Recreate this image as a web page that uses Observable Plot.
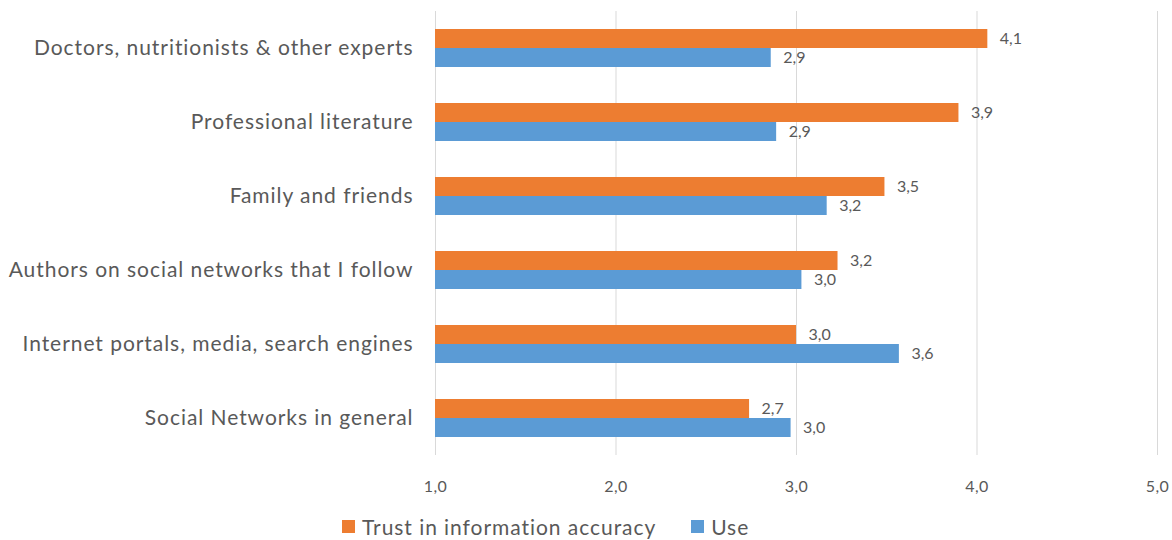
<!DOCTYPE html>
<html>
<head>
<meta charset="utf-8">
<script src="https://cdn.jsdelivr.net/npm/d3@7"></script>
<script src="https://cdn.jsdelivr.net/npm/@observablehq/plot@0.6"></script>
<style>
  html, body { margin: 0; padding: 0; background: #fff; }
  #chart svg { display: block; }
  #chart svg g[aria-label^="fy-axis"] text { font-size: 21px; letter-spacing: 0.95px; }
  #chart svg g[aria-label^="x-axis"] text { font-size: 16px; letter-spacing: 0.4px; }
  .legend { display: flex; align-items: center; height: 35px; margin-top: 4px;
    padding-left: 342px; font-family: Lato, sans-serif; font-size: 21px; letter-spacing: 0.95px; color: #595959; }
  .legend .item { display: flex; align-items: center; margin-right: 35px; }
  .legend .sw { width: 13px; height: 13px; margin-right: 7px; display: inline-block; }
</style>
</head>
<body>
<div id="chart"></div>
<script>
const categories = [
  "Doctors, nutritionists & other experts",
  "Professional literature",
  "Family and friends",
  "Authors on social networks that I follow",
  "Internet portals, media, search engines",
  "Social Networks in general"
];
const seriesNames = ["Trust in information accuracy", "Use"];
const trust = [4.06, 3.90, 3.49, 3.23, 3.00, 2.74];
const use = [2.86, 2.89, 3.17, 3.03, 3.57, 2.97];
const xTicks = [1, 2, 3, 4, 5];
const colors = ["#ED7D31", "#5B9BD5"];

const data = categories.flatMap((c, i) => [
  {category: c, series: seriesNames[0], value: trust[i]},
  {category: c, series: seriesNames[1], value: use[i]}
]);
const fmt = v => d3.format(".1f")(v).replace(".", ",");

const chart = Plot.plot({
  width: 1172,
  height: 505,
  marginLeft: 435,
  marginRight: 15,
  marginTop: 11,
  marginBottom: 50,
  style: {fontFamily: "Lato, sans-serif", color: "#595959", background: "#fff"},
  facet: {data, y: "category"},
  fy: {domain: categories, padding: 0, label: null, tickSize: 0, tickPadding: 22},
  y: {domain: seriesNames, paddingInner: 0, paddingOuter: 0.917, axis: null},
  x: {domain: [1, 5], ticks: xTicks, tickFormat: fmt, tickSize: 0, tickPadding: 25, label: null},
  color: {domain: seriesNames, range: colors},
  marks: [
    Plot.ruleX(xTicks, {stroke: "#d9d9d9", strokeWidth: 1}),
    Plot.barX(data, {x1: 1, x2: "value", y: "series", fill: "series"}),
    Plot.text(data, {x: "value", y: "series", text: d => fmt(d.value), dx: 12, textAnchor: "start", fill: "#595959", fontSize: 16})
  ]
});
document.getElementById("chart").appendChild(chart);

const legend = document.createElement("div");
legend.className = "legend";
seriesNames.forEach((s, i) => {
  const item = document.createElement("div");
  item.className = "item";
  const sw = document.createElement("span");
  sw.className = "sw";
  sw.style.background = colors[i];
  item.appendChild(sw);
  item.appendChild(document.createTextNode(s));
  legend.appendChild(item);
});
document.body.appendChild(legend);
</script>
</body>
</html>
